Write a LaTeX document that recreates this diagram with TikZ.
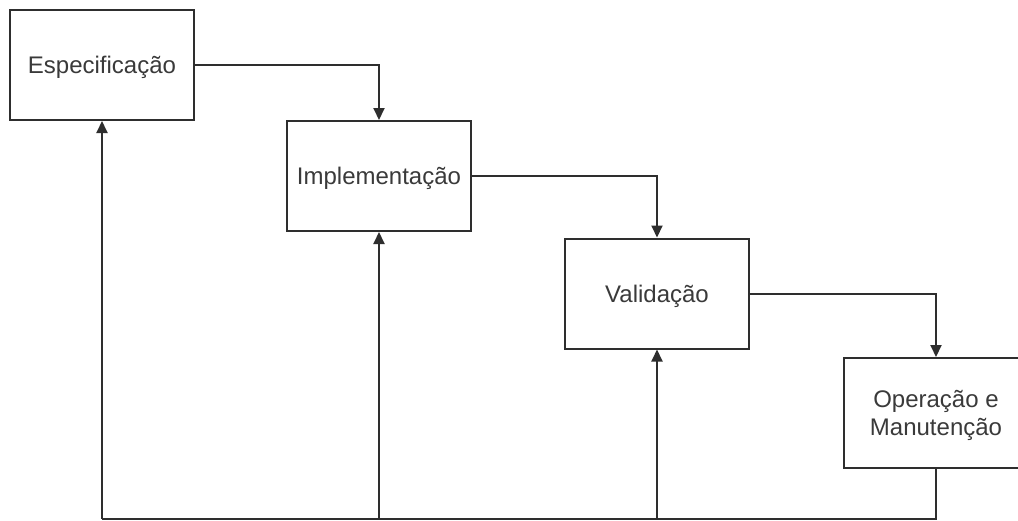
\documentclass[tikz,border=0pt]{standalone}
\usepackage{fontspec}
\setmainfont{Liberation Sans}
\usetikzlibrary{arrows.meta}
\definecolor{ink}{HTML}{2E2E2E}
\definecolor{txt}{HTML}{3A3A3A}
\begin{document}
\begin{tikzpicture}[x=1pt,y=-1pt,
  stage/.style={draw=ink, line width=2pt, fill=white, minimum width=184pt,
    minimum height=110pt, inner sep=0pt, align=center, text=txt, text depth=0pt,
    font=\fontsize{24}{28}\selectfont},
  link/.style={draw=ink, line width=2pt},
  arr/.style={link, -{Triangle[width=11pt,length=12pt]}}]
\useasboundingbox (0,0) rectangle (1018,520);
\fill[white] (0,0) rectangle (1018,520);

% the four stages, stepping down to the right
\node[stage] (esp)  at (102,65)    {Especificação};
\node[stage] (impl) at (379,176)   {Implementação};
\node[stage] (val)  at (657,293.5) {Validação};
\node[stage] (op)   at (936,413)   {Operação e\\Manutenção};

% forward flow
\draw[arr] (esp.east)  -| (impl.north);
\draw[arr] (impl.east) -| (val.north);
\draw[arr] (val.east)  -| (op.north);

% feedback line along the bottom
\coordinate (bl) at (102,518.5);
\coordinate (br) at (936,518.5);
\draw[link] (op.south) -- (br) -- (bl);
\draw[arr] (bl) -- (esp.south);
\draw[arr] (impl.south |- bl) -- (impl.south);
\draw[arr] (val.south |- bl) -- (val.south);
\end{tikzpicture}
\end{document}
